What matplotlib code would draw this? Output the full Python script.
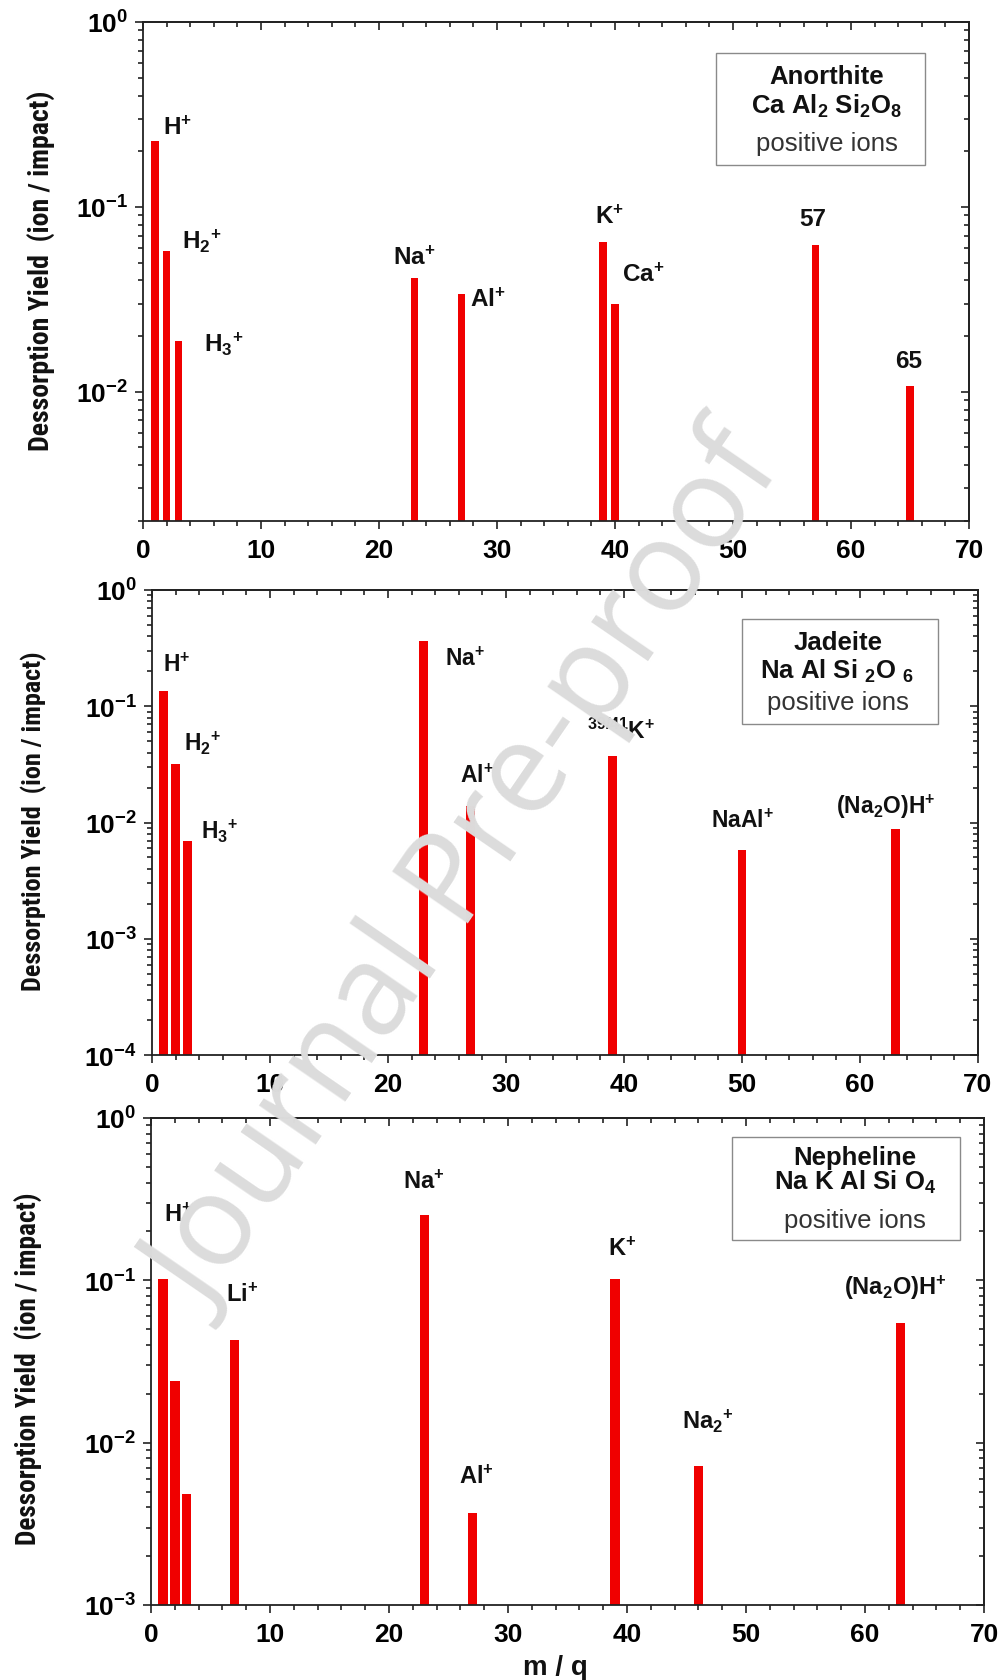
import numpy as np
import matplotlib
matplotlib.use("Agg")
import matplotlib.pyplot as plt
from matplotlib import font_manager as fm
from matplotlib.font_manager import FontProperties
from matplotlib.ticker import MultipleLocator, LogLocator, FuncFormatter, NullFormatter
from matplotlib.patches import Rectangle

plt.rcParams["font.family"] = ["Liberation Sans", "DejaVu Sans"]
plt.rcParams["font.weight"] = "bold"
plt.rcParams["mathtext.fontset"] = "custom"
for key in ("rm", "it", "bf", "sf"):
    plt.rcParams["mathtext." + key] = "Liberation Sans:bold"

# ---------------- data ----------------
anorthite_mq = [1, 2, 3, 23, 27, 39, 40, 57, 65]
anorthite_yield = [0.228, 0.0575, 0.0188, 0.0414, 0.0337, 0.0646, 0.0300, 0.0624, 0.0108]
anorthite_ions = [r"$\mathrm{H}^{+}$", r"$\mathrm{H}_{2}{}^{+}$", r"$\mathrm{H}_{3}{}^{+}$",
                  r"$\mathrm{Na}^{+}$", r"$\mathrm{Al}^{+}$", r"$\mathrm{K}^{+}$",
                  r"$\mathrm{Ca}^{+}$", "57", "65"]

jadeite_mq = [1, 2, 3, 23, 27, 39, 50, 63]
jadeite_yield = [0.134, 0.0319, 0.00692, 0.362, 0.0139, 0.0373, 0.0058, 0.00879]
jadeite_ions = [r"$\mathrm{H}^{+}$", r"$\mathrm{H}_{2}{}^{+}$", r"$\mathrm{H}_{3}{}^{+}$",
                r"$\mathrm{Na}^{+}$", r"$\mathrm{Al}^{+}$", r"$^{39/41}\mathrm{K}^{+}$",
                r"$\mathrm{NaAl}^{+}$", r"$\mathrm{(Na_{2}O)H}^{+}$"]

nepheline_mq = [1, 2, 3, 7, 23, 27, 39, 46, 63]
nepheline_yield = [0.1025, 0.0241, 0.00485, 0.0426, 0.252, 0.00369, 0.1025, 0.00723, 0.0548]
nepheline_ions = [r"$\mathrm{H}^{+}$", "", "", r"$\mathrm{Li}^{+}$", r"$\mathrm{Na}^{+}$",
                  r"$\mathrm{Al}^{+}$", r"$\mathrm{K}^{+}$", r"$\mathrm{Na}_{2}{}^{+}$",
                  r"$\mathrm{(Na_{2}O)H}^{+}$"]

minerals = ["Anorthite", "Jadeite", "Nepheline"]
formulas = [r"Ca Al$_2$ Si$_2$O$_8$", r"Na Al Si $_2$O $_6$", r"Na K Al Si O$_4$"]

# ---------------- layout / style ----------------
W, H = 1005, 1681
BAR_COLOR = "#f00000"

# label anchors (m/q, yield) and alignment for each peak label
anorthite_lab = [(1.7, 0.249, "left"), (3.27, 0.060, "left"), (5.17, 0.0166, "left"),
                 (21.2, 0.049, "left"), (27.7, 0.0292, "left"), (38.3, 0.0818, "left"),
                 (40.6, 0.0396, "left"), (56.8, 0.080, "center"), (64.9, 0.0136, "center")]
jadeite_lab = [(0.9, 0.203, "left"), (2.7, 0.0422, "left"), (4.15, 0.00736, "left"),
               (24.8, 0.2275, "left"), (26.1, 0.0224, "left"), (36.9, 0.0536, "left"),
               (47.4, 0.0091, "left"), (58.0, 0.0121, "left")]
nepheline_lab = [(1.12, 0.232, "left"), None, None, (6.32, 0.0748, "left"),
                 (21.2, 0.372, "left"), (25.9, 0.00562, "left"), (38.4, 0.143, "left"),
                 (44.6, 0.0124, "left"), (58.2, 0.0822, "left")]

panels = [
    dict(px=(143, 969, 23, 522), ylo=2e-3, mq=anorthite_mq, y=anorthite_yield,
         ions=anorthite_ions, lab=anorthite_lab, width=0.65, labsize=17.5,
         box=(0.694, 0.947, 0.713, 0.938), txt_x=0.828, txt_y=(0.892, 0.832, 0.758),
         ylab=(41, 271, 360)),
    dict(px=(152, 978, 591, 1056), ylo=1e-4, mq=jadeite_mq, y=jadeite_yield,
         ions=jadeite_ions, lab=jadeite_lab, width=0.75, labsize=16.5,
         box=(0.714, 0.952, 0.712, 0.938), txt_x=0.830, txt_y=(0.888, 0.828, 0.759),
         ylab=(34, 821, 340)),
    dict(px=(151, 984, 1119, 1606), ylo=1e-3, mq=nepheline_mq, y=nepheline_yield,
         ions=nepheline_ions, lab=nepheline_lab, width=0.8, labsize=17,
         box=(0.697, 0.971, 0.749, 0.961), txt_x=0.845, txt_y=(0.920, 0.869, 0.791),
         ylab=(29, 1369, 352)),
]


def _is_bold(entry):
    w = entry.weight
    if isinstance(w, str):
        return "bold" in w.lower() or w.lower() in ("heavy", "black")
    return w >= 600


def narrow_bold_font():
    """Pick a condensed bold face for the axis titles, if one is installed."""
    wanted = ["Liberation Sans Narrow", "Roboto Condensed", "Open Sans Condensed",
              "DejaVu Sans"]
    for name in wanted:
        for entry in fm.fontManager.ttflist:
            if entry.name != name or not _is_bold(entry):
                continue
            narrowish = ("Narrow" in name or "Condensed" in name
                         or "condensed" in str(entry.stretch).lower()
                         or "Condensed" in entry.fname)
            if narrowish:
                return FontProperties(fname=entry.fname)
    return FontProperties(family="Liberation Sans", weight="bold")


ylab_props = narrow_bold_font()

fig = plt.figure(figsize=(W / 100, H / 100), dpi=100)
fig.patch.set_facecolor("white")
renderer = fig.canvas.get_renderer()

exp_fmt = FuncFormatter(lambda v, p: r"$10^{%d}$" % int(round(np.log10(v))))
TICK_C = "#222222"

for i, p in enumerate(panels):
    l, r, t, b = p["px"]
    ax = fig.add_axes([l / W, (H - b) / H, (r - l) / W, (b - t) / H])
    ax.set_yscale("log")
    ax.set_xlim(0, 70)
    ax.set_ylim(p["ylo"], 1)

    ax.bar(p["mq"], np.array(p["y"]) - p["ylo"], width=p["width"], bottom=p["ylo"],
           color=BAR_COLOR, edgecolor="none", zorder=2)

    for ion, lab in zip(p["ions"], p["lab"]):
        if lab is None or not ion:
            continue
        ax.text(lab[0], lab[1], ion, ha=lab[2], va="baseline", fontsize=p["labsize"],
                fontweight="bold", color="#111111", zorder=3)

    # ticks: outward on bottom/left, inward on top/right
    ax.xaxis.set_major_locator(MultipleLocator(10))
    ax.xaxis.set_minor_locator(MultipleLocator(2))
    ax.yaxis.set_major_locator(LogLocator(base=10, numticks=10))
    ax.yaxis.set_minor_locator(LogLocator(base=10, subs=np.arange(2, 10), numticks=30))
    ax.yaxis.set_major_formatter(exp_fmt)
    ax.yaxis.set_minor_formatter(NullFormatter())
    ax.tick_params(which="both", direction="out", top=False, right=False,
                   width=1.2, color=TICK_C)
    ax.tick_params(which="major", length=6)
    ax.tick_params(which="minor", length=3.5)
    ax.tick_params(axis="x", labelsize=19, pad=6)
    ax.tick_params(axis="y", labelsize=19, pad=5)
    for s in ax.spines.values():
        s.set_linewidth(1.3)
        s.set_color(TICK_C)

    top = ax.secondary_xaxis("top")
    top.xaxis.set_major_locator(MultipleLocator(10))
    top.xaxis.set_minor_locator(MultipleLocator(2))
    top.xaxis.set_major_formatter(NullFormatter())
    top.xaxis.set_minor_formatter(NullFormatter())
    top.tick_params(which="both", direction="in", width=1.2, color=TICK_C)
    top.tick_params(which="major", length=6)
    top.tick_params(which="minor", length=3.5)

    right = ax.secondary_yaxis("right")
    right.yaxis.set_major_locator(LogLocator(base=10, numticks=10))
    right.yaxis.set_minor_locator(LogLocator(base=10, subs=np.arange(2, 10), numticks=30))
    right.yaxis.set_major_formatter(NullFormatter())
    right.yaxis.set_minor_formatter(NullFormatter())
    right.tick_params(which="both", direction="in", width=1.2, color=TICK_C)
    right.tick_params(which="major", length=6)
    right.tick_params(which="minor", length=3.5)
    for sec in (top, right):
        for s in sec.spines.values():
            s.set_linewidth(1.3)
            s.set_color(TICK_C)

    # mineral info box
    x0, x1, y0, y1 = p["box"]
    ax.add_patch(Rectangle((x0, y0), x1 - x0, y1 - y0, transform=ax.transAxes,
                           facecolor="white", edgecolor="#8a8a8a", linewidth=1.0, zorder=4))
    ty = p["txt_y"]
    ax.text(p["txt_x"], ty[0], minerals[i], transform=ax.transAxes, ha="center", va="center",
            fontsize=18.5, fontweight="bold", color="#111111", zorder=5)
    ax.text(p["txt_x"], ty[1], formulas[i], transform=ax.transAxes, ha="center", va="center",
            fontsize=18.5, fontweight="bold", color="#111111", zorder=5)
    ax.text(p["txt_x"], ty[2], "positive ions", transform=ax.transAxes, ha="center",
            va="center", fontsize=18.5, fontweight="normal", color="#333333", zorder=5)

    # axis title, sized so its length spans the wanted number of pixels
    yx, yy, ylen = p["ylab"]
    props = ylab_props.copy()
    props.set_size(16)
    yt = fig.text(yx / W, (H - yy) / H, "Dessorption Yield  (ion / impact)", rotation=90,
                  ha="center", va="center", fontproperties=props, color="#111111")
    ext = yt.get_window_extent(renderer)
    props.set_size(16 * ylen / ext.height)
    yt.set_fontproperties(props)

fig.text(555 / W, (H - 1668) / H, "m / q", ha="center", va="center", fontsize=20,
         fontweight="bold", color="#111111")

fig.text(470 / W, (H - 876) / H, "Journal Pre-proof", rotation=55.5, ha="center",
         va="center", fontsize=92, fontweight="normal", family="Open Sans",
         color="#dcdcdc", zorder=20)

fig.savefig("out.png", dpi=100, facecolor="white")
